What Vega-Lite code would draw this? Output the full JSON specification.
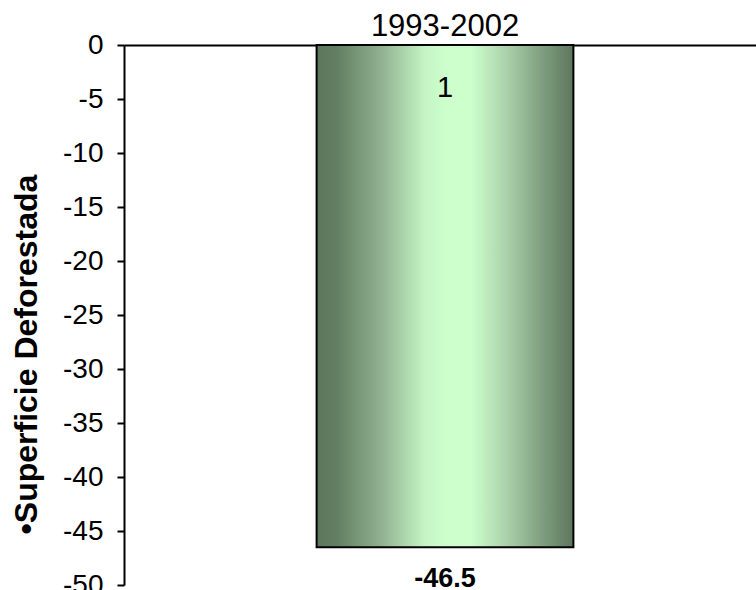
{
  "$schema": "https://vega.github.io/schema/vega-lite/v6.json",
  "autosize": "none",
  "width": 642,
  "height": 540,
  "padding": {"left": 124, "top": 45, "right": 0, "bottom": 5},
  "background": "white",
  "config": {
    "view": {"stroke": null},
    "font": "Liberation Sans"
  },
  "data": {"values": [{"periodo": "1993-2002", "superficie": -46.5, "serie": "1"}]},
  "encoding": {
    "x": {
      "field": "periodo",
      "type": "nominal",
      "scale": {"paddingInner": 0.6, "paddingOuter": 0.3},
      "axis": {
        "orient": "top",
        "title": null,
        "labelAngle": 0,
        "labelFontSize": 31,
        "labelColor": "black",
        "labelPadding": 3,
        "ticks": false,
        "domainColor": "black",
        "domainWidth": 2
      }
    }
  },
  "layer": [
    {
      "mark": {
        "type": "bar",
        "stroke": "black",
        "strokeWidth": 2,
        "color": {
          "gradient": "linear",
          "x1": 0, "x2": 1, "y1": 0, "y2": 0,
          "stops": [
            {"offset": 0, "color": "#5c765c"},
            {"offset": 0.08, "color": "#637f63"},
            {"offset": 0.25, "color": "#90b090"},
            {"offset": 0.42, "color": "#c4f4c4"},
            {"offset": 0.5, "color": "#ccffcc"},
            {"offset": 0.6, "color": "#ccffcc"},
            {"offset": 0.72, "color": "#b0d8b0"},
            {"offset": 0.88, "color": "#7f9e7f"},
            {"offset": 1, "color": "#5c765c"}
          ]
        }
      },
      "encoding": {
        "y": {
          "field": "superficie",
          "type": "quantitative",
          "scale": {"domain": [-50, 0], "nice": false, "zero": false},
          "axis": {
            "title": "•Superficie Deforestada",
            "titleFontSize": 32,
            "titleFontWeight": "bold",
            "titleColor": "black",
            "titleX": -81,
            "titleY": 309,
            "titleBaseline": "bottom",
            "titleAlign": "center",
            "values": [0, -5, -10, -15, -20, -25, -30, -35, -40, -45, -50],
            "labelExpr": "toString(datum.value)",
            "labelFontSize": 28,
            "labelColor": "black",
            "labelPadding": 14,
            "tickSize": 7,
            "tickColor": "black",
            "tickWidth": 2,
            "domainColor": "black",
            "domainWidth": 2,
            "grid": false
          }
        },
        "y2": {"datum": 0}
      }
    },
    {
      "mark": {"type": "text", "fontSize": 29, "color": "black", "baseline": "middle"},
      "encoding": {
        "y": {"datum": -4},
        "text": {"field": "serie"}
      }
    },
    {
      "mark": {"type": "text", "fontSize": 27, "fontWeight": "bold", "color": "black", "baseline": "middle", "dy": 32},
      "encoding": {
        "y": {"field": "superficie", "type": "quantitative"},
        "text": {"field": "superficie", "type": "nominal"}
      }
    }
  ]
}
